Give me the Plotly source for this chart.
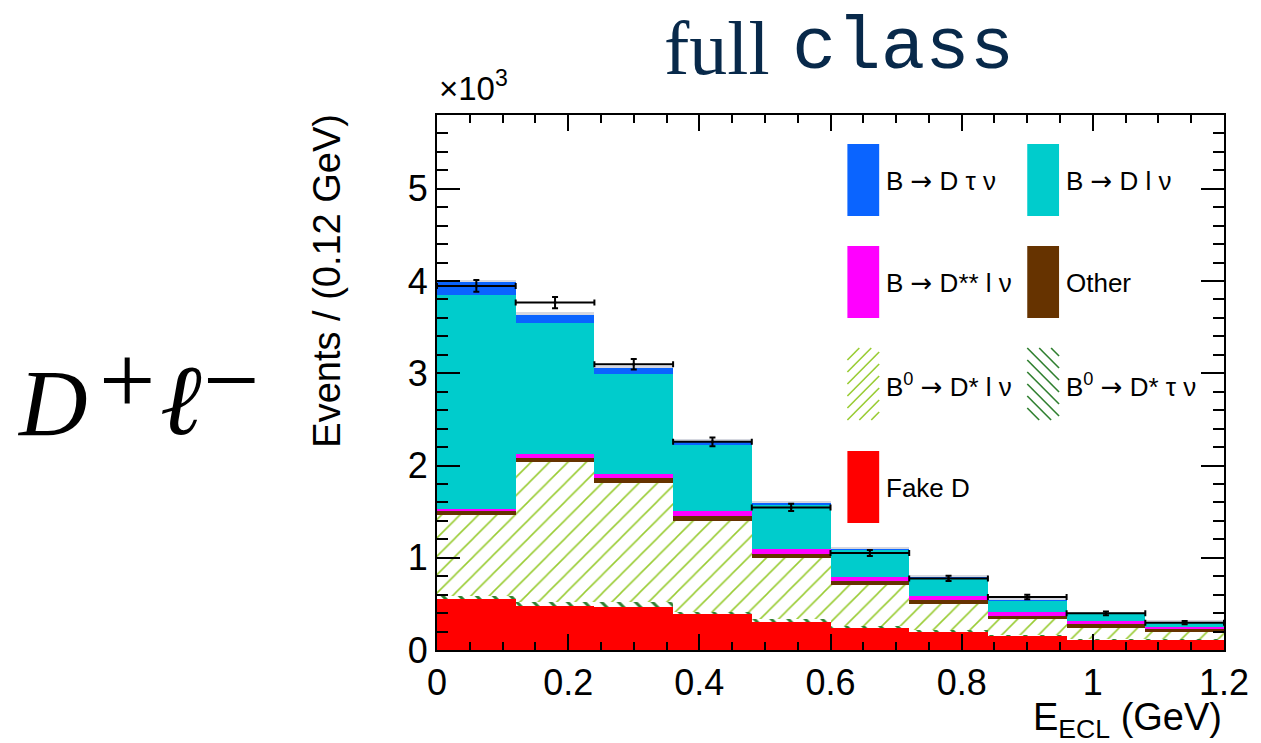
import plotly.graph_objects as go

# E_ECL binning: 10 bins of 0.12 GeV between 0 and 1.2 GeV
bin_width = 0.12
bin_centers = [0.06, 0.18, 0.30, 0.42, 0.54, 0.66, 0.78, 0.90, 1.02, 1.14]

# Stacked fit components (events per bin), bottom to top
fake_d = [549, 477, 469, 390, 303, 249, 202, 155, 116, 112]
dstar_taunu = [40, 46, 48, 25, 29, 15, 13, 10, 8, 6]
dstar_lnu = [877, 1517, 1296, 986, 661, 436, 283, 171, 118, 72]
other = [40, 40, 54, 51, 47, 48, 44, 32, 36, 34]
dss_lnu = [22, 40, 40, 51, 51, 42, 43, 44, 33, 25]
d_lnu = [2318, 1426, 1083, 718, 484, 301, 202, 130, 87, 54]
d_taunu = [144, 84, 62, 47, 25, 14, 13, 6, 7, 7]
residual = [26, 30, 28, 15, 20, 15, 10, 8, 6, 5]

# Data points with statistical uncertainties
data_counts = [3947, 3767, 3099, 2257, 1546, 1051, 776, 574, 398, 296]
data_errors = [64, 61, 57, 48, 40, 33, 28, 24, 20, 18]

# Axis ticks (y in units of 10^3 events)
x_tickvals = [0, 0.2, 0.4, 0.6, 0.8, 1.0, 1.2]
x_ticktext = ["0", "0.2", "0.4", "0.6", "0.8", "1", "1.2"]
y_tickvals = [0, 1000, 2000, 3000, 4000, 5000]
y_ticktext = ["0", "1", "2", "3", "4", "5"]

W, H = 1261, 743
L, R, T, B = 437, 1229, 115, 650  # plot frame in pixels

BLUE = "#0a64ff"
CYAN = "#00cccc"
MAGENTA = "#ff00ff"
BROWN = "#663300"
RED = "#ff0000"
LGREEN = "#99cc33"
DGREEN = "#2f7f2f"
TITLE = "#08294a"
SANS = "Liberation Sans, Arial, sans-serif"
ARROW = '<span style="font-family:DejaVu Sans">\u2192</span>'


def px(x):
    return (x - L) / (R - L)


def py(y):
    return (B - y) / (B - T)


fig = go.Figure()

components = [
    ("Fake D", fake_d, dict(color=RED)),
    ("B0 -> D* tau nu", dstar_taunu,
     dict(color="white", pattern=dict(shape="\\", fgcolor=DGREEN, bgcolor="white",
                                      size=12, solidity=0.25, fillmode="replace"))),
    ("B0 -> D* l nu", dstar_lnu,
     dict(color="white", pattern=dict(shape="/", fgcolor=LGREEN, bgcolor="white",
                                      size=13, solidity=0.12, fillmode="replace"))),
    ("Other", other, dict(color=BROWN)),
    ("B -> D** l nu", dss_lnu, dict(color=MAGENTA)),
    ("B -> D l nu", d_lnu, dict(color=CYAN)),
    ("B -> D tau nu", d_taunu, dict(color=BLUE)),
    ("residual", residual, dict(color="#d6d8e0")),
]

for name, vals, marker in components:
    marker = dict(marker)
    marker["line"] = dict(width=0)
    fig.add_trace(go.Bar(
        x=bin_centers, y=vals, width=bin_width, name=name,
        marker=marker, showlegend=False,
    ))

fig.add_trace(go.Scatter(
    x=bin_centers, y=data_counts, mode="markers", name="Data",
    marker=dict(color="black", size=3),
    error_x=dict(type="constant", value=bin_width / 2, width=3, thickness=2, color="black"),
    error_y=dict(type="data", array=data_errors, width=3, thickness=2, color="black"),
    showlegend=False,
))

shapes = []
annotations = []


def hatch_lines(x0, y0, x1, y1, spacing, direction, color, width):
    """Diagonal hatch segments filling a pixel rectangle."""
    segs = []
    w, h = x1 - x0, y1 - y0
    c = -h
    while c < w:
        if direction == "/":
            sx, sy, ex, ey = x0 + c, y1, x0 + c + h, y0
        else:
            sx, sy, ex, ey = x0 + c, y0, x0 + c + h, y1
        if sx < x0:
            t = (x0 - sx) / (ex - sx)
            sx, sy = x0, sy + t * (ey - sy)
        if ex > x1:
            t = (x1 - sx) / (ex - sx)
            ex, ey = x1, sy + t * (ey - sy)
        if ex > sx:
            segs.append(dict(type="line", xref="paper", yref="paper",
                             x0=px(sx), y0=py(sy), x1=px(ex), y1=py(ey),
                             line=dict(color=color, width=width)))
        c += spacing
    return segs


legend_entries = [
    (f"B {ARROW} D \u03c4 \u03bd", dict(fill=BLUE), 0, 0),
    (f"B {ARROW} D l \u03bd", dict(fill=CYAN), 1, 0),
    (f"B {ARROW} D** l \u03bd", dict(fill=MAGENTA), 0, 1),
    ("Other", dict(fill=BROWN), 1, 1),
    (f"B<sup>0</sup> {ARROW} D* l \u03bd", dict(hatch="/", color=LGREEN), 0, 2),
    (f"B<sup>0</sup> {ARROW} D* \u03c4 \u03bd", dict(hatch="\\", color=DGREEN), 1, 2),
    ("Fake D", dict(fill=RED), 0, 3),
]
col_x = [850, 1031]
row_y = [144, 246, 348, 451]
box_w, box_h = 32, 72

for label, style, col, row in legend_entries:
    bx0, by0 = col_x[col], row_y[row]
    bx1, by1 = bx0 + box_w, by0 + box_h
    if "fill" in style:
        shapes.append(dict(type="rect", xref="paper", yref="paper",
                           x0=px(bx0), x1=px(bx1), y0=py(by1), y1=py(by0),
                           fillcolor=style["fill"], line=dict(width=0)))
    else:
        shapes.extend(hatch_lines(bx0, by0, bx1, by1, 12, style["hatch"],
                                  style["color"], 1.6))
    annotations.append(dict(
        text=label, xref="paper", yref="paper", x=px(bx0 + 37), y=py((by0 + by1) / 2 + 1),
        xanchor="left", yanchor="middle", showarrow=False,
        font=dict(family=SANS, size=26, color="black"),
    ))

# Title
annotations.append(dict(text="full", xref="paper", yref="paper", x=px(774), y=py(48),
                        xanchor="right", yanchor="middle", showarrow=False,
                        font=dict(family="Liberation Serif, serif", size=76, color=TITLE)))
annotations.append(dict(text="class", xref="paper", yref="paper", x=px(792), y=py(48),
                        xanchor="left", yanchor="middle", showarrow=False,
                        font=dict(family="Liberation Mono, monospace", size=74, color=TITLE)))

# Channel label on the left
SERIF = "Liberation Serif, DejaVu Serif, serif"
annotations.append(dict(text="<i>D</i>", xref="paper", yref="paper", x=px(12), y=py(404),
                        xanchor="left", yanchor="middle", showarrow=False,
                        font=dict(family=SERIF, size=95, color="black")))
annotations.append(dict(text="+", xref="paper", yref="paper", x=px(125), y=py(380),
                        xanchor="center", yanchor="middle", showarrow=False,
                        font=dict(family=SERIF, size=100, color="black")))
annotations.append(dict(text="<i>\u2113</i>", xref="paper", yref="paper", x=px(179), y=py(400),
                        xanchor="center", yanchor="middle", showarrow=False,
                        font=dict(family=SERIF, size=100, color="black")))
annotations.append(dict(text="\u2212", xref="paper", yref="paper", x=px(230), y=py(380),
                        xanchor="center", yanchor="middle", showarrow=False,
                        font=dict(family=SERIF, size=100, color="black")))

# Axis titles and exponent
annotations.append(dict(text="Events / (0.12 GeV)", xref="paper", yref="paper",
                        x=px(326), y=py(112), xanchor="center", yanchor="top", textangle=-90,
                        showarrow=False, font=dict(family=SANS, size=38, color="black")))
annotations.append(dict(text="E<sub>ECL</sub> (GeV)", xref="paper", yref="paper",
                        x=1, y=py(694), xanchor="right", yanchor="top",
                        showarrow=False, font=dict(family=SANS, size=38, color="black")))
annotations.append(dict(text="\u00d710<sup>3</sup>", xref="paper", yref="paper",
                        x=0, y=py(109), xanchor="left", yanchor="bottom",
                        showarrow=False, font=dict(family=SANS, size=33, color="black")))

fig.update_layout(
    width=W, height=H,
    margin=dict(l=L, r=W - R, t=T, b=H - B, pad=0),
    paper_bgcolor="white", plot_bgcolor="white",
    barmode="stack", bargap=0,
    shapes=shapes, annotations=annotations,
    showlegend=False,
)

fig.update_xaxes(
    range=[0, 1.2], tickvals=x_tickvals, ticktext=x_ticktext,
    ticks="inside", ticklen=16, tickwidth=2, tickcolor="black",
    minor=dict(dtick=0.05, tick0=0, ticks="inside", ticklen=8, tickwidth=1.5, tickcolor="black"),
    showline=True, linewidth=2, linecolor="black", mirror="ticks",
    showgrid=False, zeroline=False,
    tickfont=dict(family=SANS, size=36, color="black"),
)
fig.update_yaxes(
    range=[0, 5800], tickvals=y_tickvals, ticktext=y_ticktext,
    ticks="inside", ticklen=23, tickwidth=2, tickcolor="black",
    minor=dict(dtick=200, tick0=0, ticks="inside", ticklen=11, tickwidth=1.5, tickcolor="black"),
    showline=True, linewidth=2, linecolor="black", mirror="ticks",
    showgrid=False, zeroline=False,
    tickfont=dict(family=SANS, size=36, color="black"),
)

fig.write_html("out.html")
